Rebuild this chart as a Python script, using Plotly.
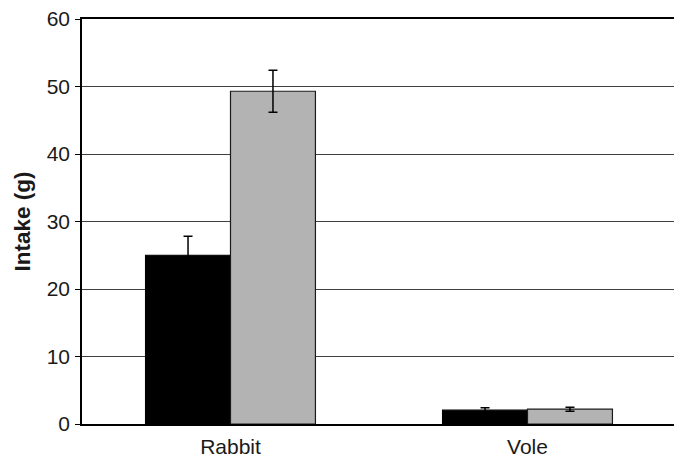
import plotly.graph_objects as go

categories = ["Rabbit", "Vole"]
series_a = [25.0, 2.05]
series_a_err = [2.8, 0.35]
series_b = [49.3, 2.2]
series_b_err = [3.1, 0.3]
y_ticks = [0, 10, 20, 30, 40, 50, 60]

fig = go.Figure()
fig.add_trace(go.Bar(
    x=categories, y=series_a, name="A",
    marker=dict(color="#000000", line=dict(color="#000000", width=1.2)),
    error_y=dict(type="data", array=series_a_err, visible=True, color="#000000", thickness=1.5, width=4.5),
))
fig.add_trace(go.Bar(
    x=categories, y=series_b, name="B",
    marker=dict(color="#b3b3b3", line=dict(color="#1a1a1a", width=1.2)),
    error_y=dict(type="data", array=series_b_err, visible=True, color="#000000", thickness=1.5, width=4.5),
))

# page body has an 8px margin, so the figure is sized/offset to compensate
fig.update_layout(
    width=674, height=452,
    margin=dict(l=74, r=6, t=11, b=36),
    paper_bgcolor="white", plot_bgcolor="white",
    barmode="group", bargap=0.428, bargroupgap=0,
    showlegend=False,
    font=dict(family="Liberation Sans, Arial, sans-serif", size=20, color="#1a1a1a"),
)
fig.update_xaxes(
    showline=True, linecolor="#000000", linewidth=1.5, mirror=True,
    ticks="", showgrid=False, tickfont=dict(size=21), automargin=False,
    ticklabelstandoff=3,
)
fig.update_yaxes(
    range=[0, 60], tickvals=y_ticks, ticktext=[str(v) for v in y_ticks],
    showline=True, linecolor="#000000", linewidth=1.5, mirror=True,
    ticks="outside", ticklen=5, tickcolor="#000000", tickwidth=1,
    showgrid=True, gridcolor="#404040", gridwidth=1, zeroline=False,
    tickfont=dict(size=21), automargin=False, ticklabelstandoff=1,
    ticklabeloverflow="allow",
    title=dict(text="<b>Intake (g)</b>", font=dict(size=22.5), standoff=10),
)

fig.write_html("out.html")
